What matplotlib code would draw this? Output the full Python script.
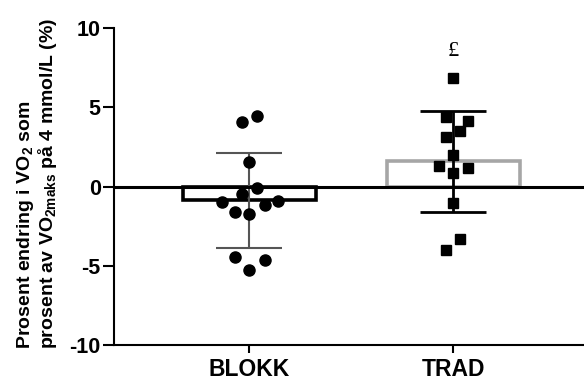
import numpy as np
import matplotlib
matplotlib.use("Agg")
import matplotlib.pyplot as plt

plt.rcParams['font.family'] = ['Liberation Sans', 'DejaVu Sans']
plt.rcParams['font.weight'] = 'bold'
plt.rcParams['axes.unicode_minus'] = False
plt.rcParams['mathtext.fontset'] = 'custom'
plt.rcParams['mathtext.rm'] = 'Liberation Sans:bold'
plt.rcParams['mathtext.it'] = 'Liberation Sans:bold'
plt.rcParams['mathtext.bf'] = 'Liberation Sans:bold'

groups = ["BLOKK", "TRAD"]
blokk = [4.10, 4.48, 1.58, -0.08, -0.49, -0.99, -1.15, -0.88, -1.58, -1.72, -4.46, -4.65, -5.26]
trad = [6.83, 4.37, 4.12, 3.51, 3.15, 2.02, 1.30, 1.18, 0.88, -1.03, -3.30, -3.99]
# horizontal jitter offsets used to spread overlapping points
blokk_dx = [-0.035, 0.04, 0.0, 0.04, -0.035, -0.135, 0.075, 0.14, -0.07, 0.0, -0.07, 0.075, 0.0]
trad_dx = [0.0, -0.035, 0.07, 0.035, -0.035, 0.0, -0.07, 0.07, 0.0, 0.0, 0.035, -0.035]
yticks = [-10, -5, 0, 5, 10]

fig = plt.figure(figsize=(5.84, 3.80), dpi=100)
ax = fig.add_axes([0.195, 0.092, 0.805, 0.834])

data = [np.array(blokk), np.array(trad)]
means = [d.mean() for d in data]
sds = [d.std(ddof=1) for d in data]
x = np.arange(len(groups))

bar_colors = ['black', '#a6a6a6']
err_colors = ['#555555', 'black']
err_lw = [1.5, 2.0]
ax.bar(x, means, width=0.65, facecolor='none', edgecolor=bar_colors, linewidth=2.6, zorder=2)
for i in range(len(groups)):
    ax.errorbar(x[i], means[i], yerr=sds[i], fmt='none', ecolor=err_colors[i],
                elinewidth=err_lw[i], capsize=24, capthick=err_lw[i], zorder=3)

ax.plot(x[0] + np.array(blokk_dx), blokk, 'o', color='black', markersize=8, zorder=4, clip_on=False)
ax.plot(x[1] + np.array(trad_dx), trad, 's', color='black', markersize=7.2, zorder=4, clip_on=False)

ax.axhline(0, color='black', linewidth=2.2, zorder=5)

ax.text(x[1], 8.5, '£', ha='center', va='center', fontsize=16,
        family='Liberation Serif', fontweight='normal')

ax.set_xlim(-0.663, 1.64)
ax.set_ylim(-10, 10)
ax.set_yticks(yticks)
ax.set_xticks(x)
ax.set_xticklabels(groups, fontsize=16.5, fontweight='bold')
ax.tick_params(axis='y', labelsize=15.5, width=1.5, length=8, pad=1.5)
ax.tick_params(axis='x', width=1.5, length=6, pad=3)
for s in ['top', 'right']:
    ax.spines[s].set_visible(False)
for s in ['left', 'bottom']:
    ax.spines[s].set_linewidth(1.5)

fig.text(37 / 584, (380 - 183) / 380,
         'Prosent endring i VO$_2$ som\nprosent av VO$_{2maks}$ på 4 mmol/L (%)',
         rotation=90, ha='center', va='center', multialignment='left',
         fontsize=14, fontweight='bold', linespacing=1.05)

fig.savefig('out.png', dpi=100)
